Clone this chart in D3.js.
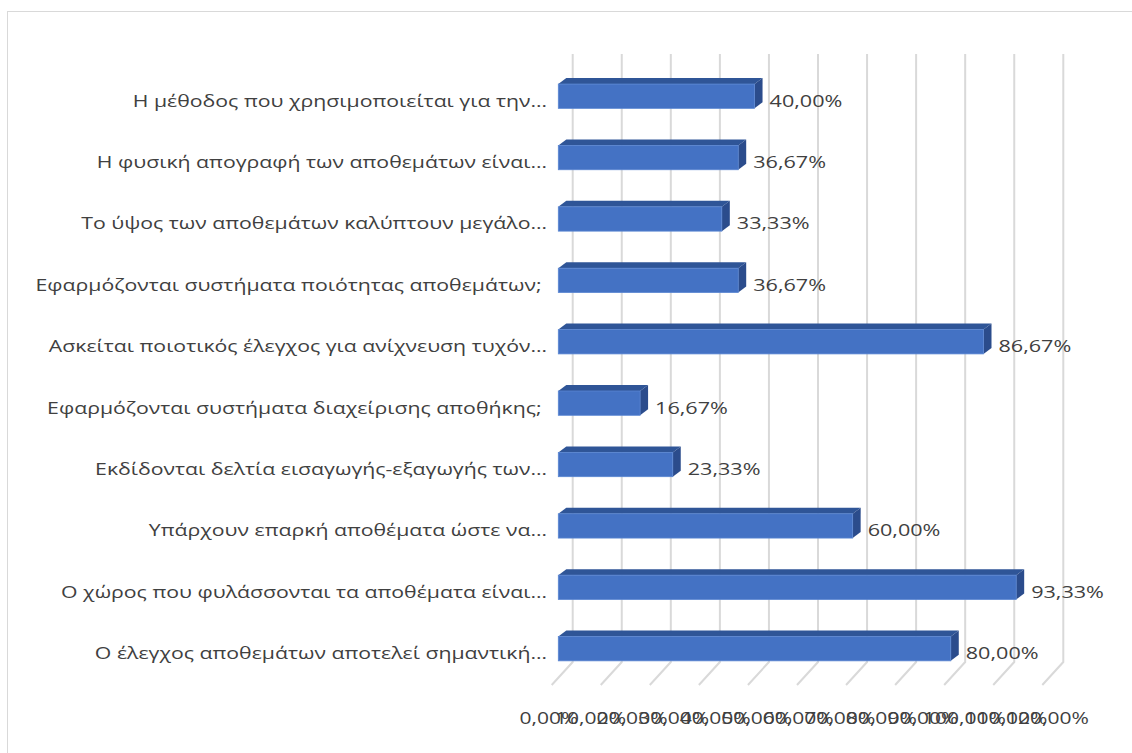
<!DOCTYPE html>
<html>
<head>
<meta charset="utf-8">
<script src="https://cdn.jsdelivr.net/npm/d3@7"></script>
<style>
  html, body { margin: 0; padding: 0; background: #fff; overflow: hidden; }
  svg { display: block; }
  text { font-family: "Open Sans", "Noto Sans", sans-serif; fill: #404040; white-space: pre; }
</style>
</head>
<body>
<svg id="chart" width="1132" height="753"></svg>
<script>
// ---- data (display order, top to bottom) ----
const categories = [
  "Η μέθοδος που χρησιμοποιείται για την…",
  "Η φυσική απογραφή των αποθεμάτων είναι…",
  "Το ύψος των αποθεμάτων καλύπτουν μεγάλο…",
  "Εφαρμόζονται συστήματα ποιότητας αποθεμάτων; ",
  "Ασκείται ποιοτικός έλεγχος για ανίχνευση τυχόν…",
  "Εφαρμόζονται συστήματα διαχείρισης αποθήκης; ",
  "Εκδίδονται δελτία εισαγωγής-εξαγωγής των…",
  "Υπάρχουν επαρκή αποθέματα ώστε να…",
  "Ο χώρος που φυλάσσονται τα αποθέματα είναι…",
  "Ο έλεγχος αποθεμάτων αποτελεί σημαντική…"
];
const values = [0.4000, 0.3667, 0.3333, 0.3667, 0.8667, 0.1667, 0.2333, 0.6000, 0.9333, 0.8000];
const gridTicks = [0, 0.1, 0.2, 0.3, 0.4, 0.5, 0.6, 0.7, 0.8, 0.9, 1.0];
const axisTickLabels = [0, 0.1, 0.2, 0.3, 0.4, 0.5, 0.6, 0.7, 0.8, 0.9, 1.0, 1.1, 1.2];

const el = d3.formatLocale({decimal: ",", thousands: ".", grouping: [3], currency: ["", "€"]});
const pct = el.format(".2%");

const svg = d3.select("#chart");

// chart frame
svg.append("rect")
  .attr("x", 7.5).attr("y", 11.5).attr("width", 1140).attr("height", 760)
  .attr("fill", "#fff").attr("stroke", "#d9d9d9").attr("stroke-width", 1);

// scales
const xBack = d3.scaleLinear().domain([0, 1]).range([572.7, 1063.3]);   // back wall
const xFront = d3.scaleLinear().domain([0, 1]).range([558.3, 1048.9]);  // bar front faces
const xLabel = d3.scaleLinear().domain([0, 1.2]).range([549, 1047.5]);  // axis label positions
const y = d3.scalePoint().domain(categories).range([96.2, 648.7]);

const gridTop = 54, gridBottom = 662, floorDX = -21, floorDY = 23;
const depthX = 8, depthY = 6, barH = 24.3;
const fs = 17, catStretch = 1.25, valStretch = 1.27, axStretch = 1.24;

// gridlines (back wall + floor)
const grid = svg.append("g").attr("stroke", "#d9d9d9").attr("stroke-width", 2).attr("fill", "none");
grid.selectAll("path").data(gridTicks).join("path")
  .attr("d", d => `M${xBack(d)},${gridTop}V${gridBottom}l${floorDX},${floorDY}`);

// bars
const bars = svg.append("g").selectAll("g").data(values).join("g");
bars.append("path") // top face
  .attr("fill", "#2f5597")
  .attr("d", (d, i) => {
    const yc = y(categories[i]), t = yc - barH / 2, x0 = xFront(0), x1 = xFront(d);
    return `M${x0},${t}L${x0 + depthX},${t - depthY}L${x1 + depthX},${t - depthY}L${x1},${t}Z`;
  });
bars.append("path") // side face
  .attr("fill", "#2b4c8c")
  .attr("d", (d, i) => {
    const yc = y(categories[i]), t = yc - barH / 2, b = yc + barH / 2, x1 = xFront(d);
    return `M${x1},${t}L${x1 + depthX},${t - depthY}L${x1 + depthX},${b - depthY}L${x1},${b}Z`;
  });
bars.append("rect") // front face
  .attr("x", xFront(0))
  .attr("y", (d, i) => y(categories[i]) - barH / 2)
  .attr("width", d => xFront(d) - xFront(0))
  .attr("height", barH)
  .attr("fill", "#4472c4")
  .attr("stroke", "#5a86d2").attr("stroke-width", 0.8);

// value labels
svg.append("g").selectAll("text").data(values).join("text")
  .attr("transform", (d, i) => `translate(${xFront(d) + depthX + 7},${y(categories[i]) + 10.5}) scale(${valStretch},1)`)
  .attr("font-size", fs)
  .text(d => pct(d));

// category labels
svg.append("g").selectAll("text").data(categories).join("text")
  .attr("transform", d => `translate(547,${y(d) + 10.5}) scale(${catStretch},1)`)
  .attr("text-anchor", "end")
  .attr("font-size", fs)
  .text(d => d);

// axis labels
svg.append("g").selectAll("text").data(axisTickLabels).join("text")
  .attr("transform", d => `translate(${xLabel(d)},724) scale(${axStretch},1)`)
  .attr("text-anchor", "middle")
  .attr("font-size", fs)
  .text(d => pct(d));
</script>
</body>
</html>
